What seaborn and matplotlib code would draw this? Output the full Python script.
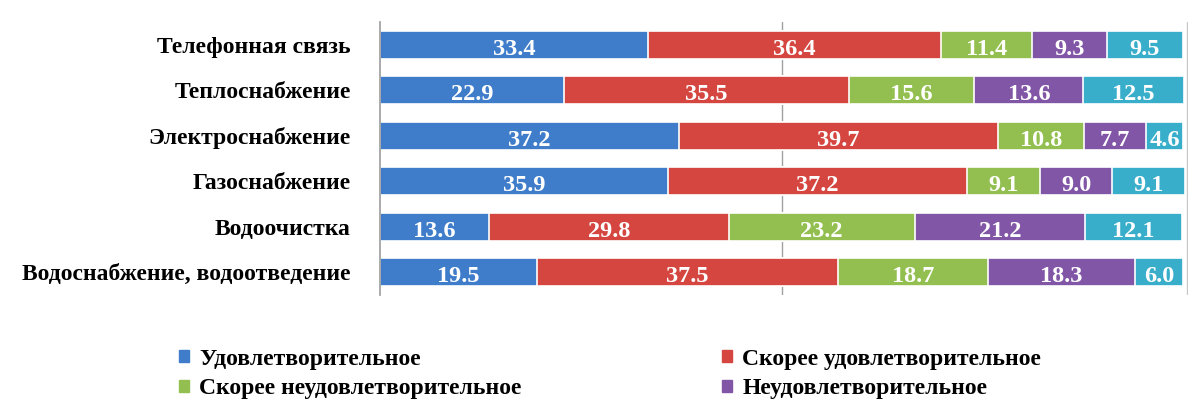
import matplotlib
matplotlib.use("Agg")
import matplotlib.pyplot as plt
import seaborn as sns
import numpy as np
import pandas as pd
from matplotlib.patches import Patch

categories = ["Телефонная связь", "Теплоснабжение", "Электроснабжение",
              "Газоснабжение", "Водоочистка", "Водоснабжение, водоотведение"]
series = ["Удовлетворительное", "Скорее удовлетворительное",
          "Скорее неудовлетворительное", "Неудовлетворительное",
          "Затрудняюсь ответить"]
s1 = [33.4, 22.9, 37.2, 35.9, 13.6, 19.5]
s2 = [36.4, 35.5, 39.7, 37.2, 29.8, 37.5]
s3 = [11.4, 15.6, 10.8, 9.1, 23.2, 18.7]
s4 = [9.3, 13.6, 7.7, 9.0, 21.2, 18.3]
s5 = [9.5, 12.5, 4.6, 9.1, 12.1, 6.0]
colors = ["#3F7DCA", "#D4463F", "#92BF4F", "#8156A6", "#38AECB"]

sns.set_theme(style="white")
plt.rcParams['font.family'] = ['Liberation Serif', 'DejaVu Serif']
plt.rcParams['font.weight'] = 'bold'
plt.rcParams['text.color'] = 'black'
plt.rcParams['ytick.color'] = 'black'

vals = np.array([s1, s2, s3, s4, s5])
cum = np.cumsum(vals, axis=0)

fig = plt.figure(figsize=(11.95, 4.03), dpi=100)
ax = fig.add_axes([0.318, 0.268, 0.676, 0.677])

for i in range(len(series) - 1, -1, -1):
    df = pd.DataFrame({"cat": categories, "val": cum[i]})
    sns.barplot(data=df, x="val", y="cat", color=colors[i], ax=ax,
                width=0.62, edgecolor="white", linewidth=1.2, saturation=1,
                orient="h")

for i in range(len(series)):
    for j, c in enumerate(categories):
        xc = cum[i][j] - vals[i][j] / 2
        ax.text(xc, j + 0.1, f"{vals[i][j]:.1f}", ha="center", va="center",
                color="white", fontsize=17.5, fontweight="bold")

ax.set_xlim(0, 100.6)
ax.set_ylim(5.5, -0.5)
ax.set_xlabel("")
ax.set_ylabel("")
ax.set_xticks([])
ax.tick_params(axis="y", length=0, pad=21, labelsize=17, labelcolor="black")
for lab in ax.get_yticklabels():
    lab.set_fontweight("bold")
for sp in ["top", "right", "bottom"]:
    ax.spines[sp].set_visible(False)
ax.spines["left"].set_color("#A0A0A0")
ax.axvline(50, color="#A0A0A0", lw=1, zorder=0)
ax.axvline(100.5, color="#C8C8C8", lw=1, zorder=0)

handles = [Patch(color=colors[k], label=series[k]) for k in [0, 2, 1, 3]]
leg = fig.legend(handles=handles, loc="upper left", bbox_to_anchor=(0.142, 0.158),
                 ncol=2, frameon=False, fontsize=17, handlelength=0.4,
                 handleheight=0.4, handletextpad=0.45, columnspacing=8.5,
                 labelspacing=0.35, borderaxespad=0)
for t in leg.get_texts():
    t.set_color("black")

fig.savefig("out.png", dpi=100)
